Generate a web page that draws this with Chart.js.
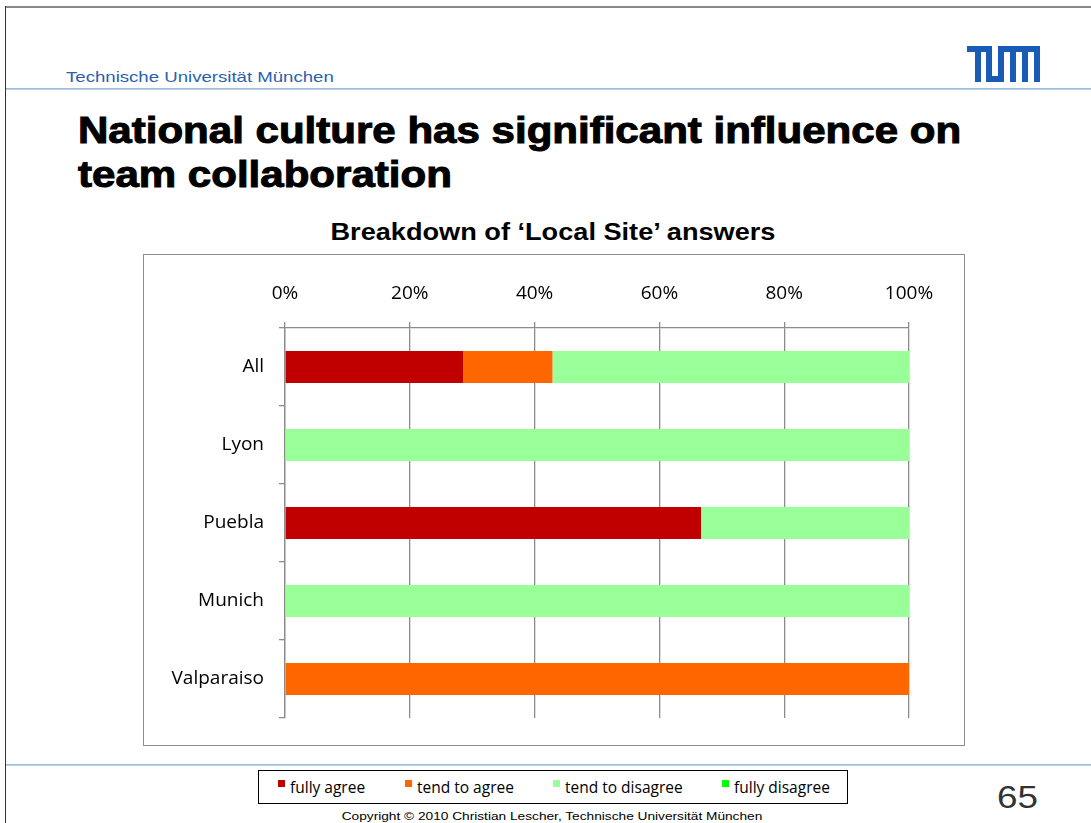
<!DOCTYPE html>
<html>
<head>
<meta charset="utf-8">
<script src="https://cdn.jsdelivr.net/npm/chart.js@4/dist/chart.umd.min.js"></script>
<style>
  html, body { margin: 0; padding: 0; background: #fff; }
  body { width: 1091px; height: 823px; position: relative; overflow: hidden; font-family: 'Liberation Sans', Arial, sans-serif; }
  .abs { position: absolute; }
  #frameTop { left: 5px; top: 6px; width: 1086px; height: 2px; background: #8a8a8a; }
  #frameLeft { left: 5px; top: 6px; width: 1px; height: 817px; background: #333; }
  #uni { left: 66px; top: 68px; font-size: 15px; color: #2a5fae; transform: scaleX(1.24); transform-origin: left top; white-space: nowrap; }
  .rule { left: 6px; width: 1085px; height: 2px; background: linear-gradient(#8fb3d9, #c7daee); }
  #title { left: 78px; top: 109px; font-size: 36px; font-weight: bold; line-height: 44px; color: #000; -webkit-text-stroke: 1px #000; transform: scaleX(1.168); transform-origin: left top; white-space: nowrap; }
  #chartTitle { left: 145px; width: 816px; top: 219px; text-align: center; font-size: 23px; font-weight: bold; transform: scaleX(1.18); transform-origin: center top; }
  #box { left: 143px; top: 254px; width: 820px; height: 490px; border: 1.5px solid #8c8c8c; }
  #legend { left: 258px; top: 770px; width: 590px; height: 34px; border: 1px solid #000; box-sizing: border-box; font-family: 'Open Sans', Lato, sans-serif; font-size: 15.5px; }
  .lg { position: absolute; top: 5px; white-space: nowrap; }
  .sw { position: absolute; top: 4px; width: 7px; height: 7px; }
  #page { left: 997px; top: 779px; font-size: 32px; color: #333; transform: scaleX(1.15); transform-origin: left top; }
  #copy { left: 0; width: 1104px; top: 810px; text-align: center; font-size: 11.5px; color: #000; transform: scaleX(1.19); transform-origin: center top; }
</style>
</head>
<body>
<div class="abs" id="frameTop"></div>
<div class="abs" id="frameLeft"></div>
<div class="abs" id="uni">Technische Universität München</div>
<svg class="abs" style="left:967px;top:46px" width="73" height="36" viewBox="0 0 73 36">
  <g fill="#1a5cb5">
    <rect x="0" y="0" width="25" height="6"/>
    <rect x="8" y="0" width="6" height="36"/>
    <rect x="19" y="0" width="6" height="36"/>
    <rect x="19" y="30" width="18" height="6"/>
    <rect x="31" y="0" width="6" height="36"/>
    <rect x="31" y="0" width="42" height="6"/>
    <rect x="43" y="0" width="6" height="36"/>
    <rect x="55" y="0" width="6" height="36"/>
    <rect x="67" y="0" width="6" height="36"/>
  </g>
</svg>
<div class="abs rule" style="top:88px"></div>
<div class="abs" id="title">National culture has significant influence on<br>team collaboration</div>
<div class="abs" id="chartTitle">Breakdown of ‘Local Site’ answers</div>
<div class="abs" id="box"><canvas id="chart" width="820" height="490"></canvas></div>
<div class="abs rule" style="top:764px"></div>
<div class="abs" id="legend"></div>
<div class="abs" id="page">65</div>
<div class="abs" id="copy">Copyright © 2010 Christian Lescher, Technische Universität München</div>

<script>
// data (shares per site)
const sites = ['All', 'Lyon', 'Puebla', 'Munich', 'Valparaiso']
const fullyAgree = [28.57, 0, 66.67, 0, 0]
const tendToAgree = [14.29, 0, 0, 0, 100]
const tendToDisagree = [57.14, 100, 33.33, 100, 0]
const fullyDisagree = [0, 0, 0, 0, 0]
const tickLabels = ['0%', '20%', '40%', '60%', '80%', '100%']

const seriesNames = ['fully agree', 'tend to agree', 'tend to disagree', 'fully disagree']
const seriesColors = ['#c00000', '#ff6600', '#99ff99', '#00ff00']
const seriesData = [fullyAgree, tendToAgree, tendToDisagree, fullyDisagree]

const datasets = seriesNames.map((name, i) => ({
	label: name,
	data: seriesData[i],
	backgroundColor: seriesColors[i],
	borderWidth: 0,
	barPercentage: 0.41,
	categoryPercentage: 1,
}))

// legend sits outside the chart box, like on the slide
const legendEl = document.getElementById('legend')
const legendX = [19, 146, 294, 463]
seriesNames.forEach((name, i) => {
	legendEl.innerHTML += `<span class="lg" style="left:${legendX[i]}px"><span class="sw" style="left:0;background:${seriesColors[i]}"></span><span style="margin-left:12px">${name}</span></span>`
})

const tickFont = { family: "'Open Sans', Lato, sans-serif", size: 19 }

new Chart(document.getElementById('chart'), {
	type: 'bar',
	data: { labels: sites, datasets },
	options: {
		indexAxis: 'y',
		responsive: false,
		animation: false,
		layout: { padding: { left: 5, right: 55, top: 10, bottom: 27 } },
		plugins: { legend: { display: false }, tooltip: { enabled: false } },
		scales: {
			x: {
				position: 'top',
				stacked: true,
				min: 0,
				max: 100,
				afterFit: (s) => { s.height = 63 },
				ticks: {
					stepSize: 20,
					color: '#000',
					font: tickFont,
					padding: 17,
					maxRotation: 0,
					callback: (v, i) => tickLabels[i],
				},
				grid: { color: '#8c8c8c', lineWidth: 1.3, tickLength: 6 },
				border: { color: '#8c8c8c', width: 1.3 },
			},
			y: {
				stacked: true,
				afterFit: (s) => { s.width = 136 },
				ticks: { color: '#000', font: tickFont, padding: 15 },
				grid: { offset: true, drawOnChartArea: false, color: '#8c8c8c', lineWidth: 1.3, tickLength: 6 },
				border: { color: '#8c8c8c', width: 1.3 },
			},
		},
	},
})
</script>
</body>
</html>
